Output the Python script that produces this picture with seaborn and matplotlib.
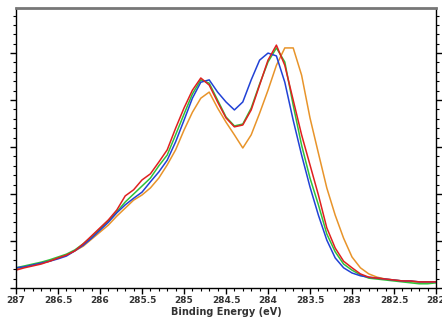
import numpy as np
import pandas as pd
import seaborn as sns
import matplotlib.pyplot as plt
from matplotlib.ticker import MultipleLocator, NullFormatter, FuncFormatter

# C 1s region, binding energy in eV (0.1 eV steps)
energy = np.round(np.arange(287.0, 281.95, -0.1), 1)

red = [0.38, 0.43, 0.47, 0.51, 0.57, 0.64, 0.70, 0.79, 0.94, 1.11,
       1.28, 1.45, 1.66, 1.96, 2.09, 2.30, 2.43, 2.68, 2.94, 3.40,
       3.83, 4.21, 4.47, 4.32, 3.96, 3.62, 3.43, 3.47, 3.79, 4.32,
       4.85, 5.17, 4.74, 4.00, 3.26, 2.62, 1.98, 1.28, 0.85, 0.57,
       0.43, 0.30, 0.23, 0.21, 0.19, 0.17, 0.15, 0.15, 0.13, 0.13, 0.13]

blue = [0.43, 0.45, 0.49, 0.53, 0.57, 0.62, 0.68, 0.79, 0.91, 1.06,
        1.23, 1.40, 1.60, 1.77, 1.91, 2.04, 2.26, 2.47, 2.72, 3.11,
        3.57, 4.04, 4.38, 4.43, 4.17, 3.96, 3.79, 3.96, 4.43, 4.85,
        5.00, 4.94, 4.38, 3.57, 2.83, 2.15, 1.55, 1.02, 0.64, 0.43,
        0.32, 0.26, 0.23, 0.21, 0.19, 0.17, 0.15, 0.15, 0.13, 0.13, 0.13]

green = [0.43, 0.47, 0.51, 0.55, 0.60, 0.66, 0.72, 0.81, 0.94, 1.09,
         1.26, 1.43, 1.62, 1.83, 2.00, 2.17, 2.34, 2.60, 2.83, 3.26,
         3.70, 4.13, 4.43, 4.36, 4.00, 3.64, 3.45, 3.49, 3.83, 4.34,
         4.81, 5.11, 4.81, 3.89, 3.04, 2.34, 1.77, 1.15, 0.77, 0.51,
         0.38, 0.28, 0.21, 0.19, 0.17, 0.15, 0.13, 0.11, 0.09, 0.09, 0.11]

orange = [0.40, 0.45, 0.49, 0.53, 0.57, 0.64, 0.70, 0.79, 0.89, 1.04,
          1.19, 1.34, 1.53, 1.70, 1.87, 1.98, 2.13, 2.34, 2.62, 2.94,
          3.36, 3.74, 4.04, 4.17, 3.83, 3.53, 3.26, 2.98, 3.26, 3.72,
          4.21, 4.74, 5.11, 5.11, 4.53, 3.62, 2.87, 2.13, 1.55, 1.06,
          0.66, 0.43, 0.30, 0.23, 0.19, 0.17, 0.15, 0.13, 0.13, 0.13, 0.13]

series = {"orange": orange, "green": green, "blue": blue, "red": red}
colors = {"orange": "#e8942a", "green": "#2fc23a", "blue": "#2142d6", "red": "#e0201f"}

df = pd.concat(
    [pd.DataFrame({"energy": energy, "intensity": vals, "sample": name})
     for name, vals in series.items()],
    ignore_index=True,
)

sns.set_style("white")
fig = plt.figure(figsize=(4.42, 3.22), dpi=100)
ax = fig.add_axes([16 / 442, 34 / 322, 420 / 442, 280 / 322])

sns.lineplot(data=df, x="energy", y="intensity", hue="sample",
             hue_order=list(series.keys()), palette=colors,
             linewidth=1.1, legend=False, ax=ax, sort=False)

ax.set_xlim(287, 282)
ax.set_ylim(0, 5.96)
ax.xaxis.set_major_locator(MultipleLocator(0.5))
ax.xaxis.set_minor_locator(MultipleLocator(0.1))
ax.yaxis.set_major_locator(MultipleLocator(1))
ax.yaxis.set_minor_locator(MultipleLocator(0.2))
ax.xaxis.set_major_formatter(FuncFormatter(lambda v, p: f"{v:g}"))
ax.yaxis.set_major_formatter(NullFormatter())

ax.tick_params(axis="x", which="major", direction="out", length=4, width=1,
               color="black", labelsize=6.5, labelcolor="#333333", pad=2,
               top=False, bottom=True)
ax.tick_params(axis="x", which="minor", direction="out", length=2.5, width=0.8,
               color="black", top=False, bottom=True)
ax.tick_params(axis="y", which="major", direction="out", length=4, width=1,
               left=True, right=True, color="black")
ax.tick_params(axis="y", which="minor", direction="out", length=2.5, width=0.8,
               left=True, right=True, color="black")
for lbl in ax.get_xticklabels():
    lbl.set_fontweight("bold")

for side in ("left", "right", "bottom"):
    ax.spines[side].set_color("black")
    ax.spines[side].set_linewidth(1.0)
ax.spines["top"].set_color("#777777")
ax.spines["top"].set_linewidth(2.0)

ax.set_xlabel("Binding Energy (eV)", fontsize=7, fontweight="bold",
              color="#333333", labelpad=1)
ax.set_ylabel("")

fig.savefig("out.png", dpi=100)
